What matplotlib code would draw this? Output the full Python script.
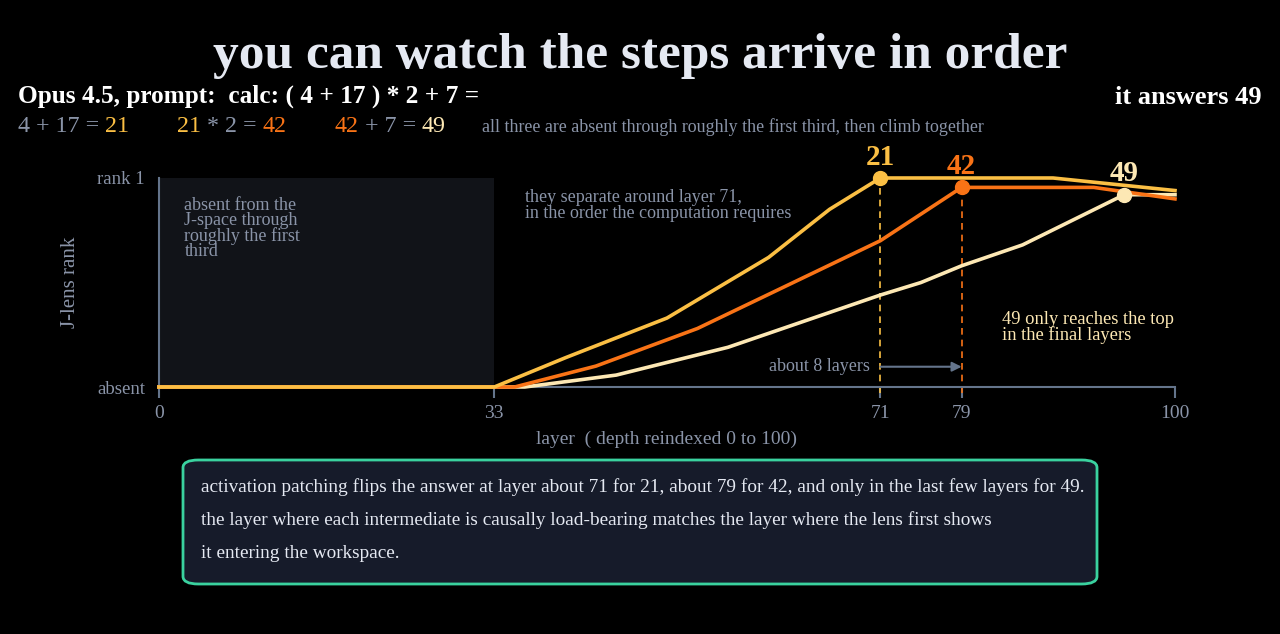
import matplotlib
matplotlib.use("Agg")
import matplotlib.pyplot as plt
from matplotlib.patches import FancyBboxPatch, Rectangle
import numpy as np

plt.rcParams['font.family'] = ['Liberation Serif', 'DejaVu Serif']

# ---------------- data ----------------
layers_21 = [0, 33, 40, 50, 60, 66, 71, 88, 100]
rank_21   = [0, 0, 0.14, 0.33, 0.62, 0.85, 1.0, 1.0, 0.94]

layers_42 = [0, 35, 43, 53, 62, 71, 79, 92, 100]
rank_42   = [0, 0, 0.10, 0.28, 0.49, 0.70, 0.955, 0.955, 0.90]

layers_49 = [0, 36, 45, 56, 71, 75, 79, 85, 95, 100]
rank_49   = [0, 0, 0.057, 0.19, 0.44, 0.50, 0.58, 0.68, 0.92, 0.92]

arrival_layers = [71, 79, 95]
arrival_labels = ["21", "42", "49"]
xticks = [0, 33, 71, 79, 100]
ytick_labels = ["absent", "rank 1"]

C21 = "#fbbf44"
C42 = "#f97316"
C49 = "#fde8b4"
GRAY = "#8a94a8"
AXC = "#64748b"
WHITE = "#e5e9f2"

fig = plt.figure(figsize=(12.8, 6.34), dpi=100, facecolor="black")
ax = fig.add_axes([159/1280, 1-387/634, (1175-159)/1280, (387-178)/634])
ax.set_facecolor("black")
ax.set_xlim(0, 100)
ax.set_ylim(0, 1)

# shaded early region
ax.add_patch(Rectangle((0, 0), 33, 1, facecolor="#111318", edgecolor="none", zorder=0))

series = [(layers_49, rank_49, C49), (layers_42, rank_42, C42), (layers_21, rank_21, C21)]
for xs, ys, c in series:
    ax.plot(xs, ys, color=c, lw=2.6, solid_joinstyle="round", clip_on=False, zorder=3)

# dashed drops and markers
for (xs, ys, c), L, lab in zip(series[::-1], arrival_layers, arrival_labels):
    yv = np.interp(L, xs, ys)
    if lab != "49":
        ax.plot([L, L], [-0.03, yv], color=c, lw=1.2, ls=(0, (4, 3)), zorder=2, clip_on=False)
    ax.plot([L], [yv], "o", ms=10, color=c, zorder=5, clip_on=False)
    ax.text(L, yv + 0.035, lab, color=c, fontsize=21, fontweight="bold",
            ha="center", va="bottom", zorder=6, clip_on=False)

# arrow about 8 layers
ax.annotate("", xy=(79, 0.097), xytext=(71, 0.097),
            arrowprops=dict(arrowstyle="-|>", color=AXC, lw=1.5, mutation_scale=14,
                            shrinkA=0, shrinkB=0))
ax.text(70, 0.10, "about 8 layers", color=GRAY, fontsize=13, ha="right", va="center")

# annotations
ax.text(2.5, 0.91, "absent from the\nJ-space through\nroughly the first\nthird", color=GRAY,
        fontsize=13, ha="left", va="top", linespacing=0.85)
ax.text(36, 0.945, "they separate around layer 71,\nin the order the computation requires",
        color=GRAY, fontsize=13, ha="left", va="top", linespacing=0.85)
ax.text(83.0, 0.365, "49 only reaches the top\nin the final layers", color=C49,
        fontsize=13.3, ha="left", va="top", linespacing=0.85)

# axes styling
for s in ["top", "right"]:
    ax.spines[s].set_visible(False)
for s in ["left", "bottom"]:
    ax.spines[s].set_color(AXC)
    ax.spines[s].set_linewidth(1.5)
ax.set_xticks(xticks)
ax.set_xticklabels([str(t) for t in xticks])
ax.set_yticks([0, 1])
ax.set_yticklabels(ytick_labels)
ax.tick_params(axis="x", colors=AXC, length=8, width=1.5, labelsize=14, labelcolor=GRAY, pad=5)
ax.tick_params(axis="y", length=0, labelsize=13.5, labelcolor=GRAY, pad=10)
ax.set_xlabel("layer  ( depth reindexed 0 to 100)", color=GRAY, fontsize=14, labelpad=6)
ax.set_ylabel("J-lens rank", color=GRAY, fontsize=15, labelpad=12)

# title and header texts
fig.text(0.5, 1-56/634, "you can watch the steps arrive in order", color=WHITE,
         fontsize=37, fontweight="bold", ha="center", va="center")
fig.text(18/1280, 1-96/634, "Opus 4.5, prompt:  calc: ( 4 + 17 ) * 2 + 7 =", color="white",
         fontsize=18.2, fontweight="bold", ha="left", va="center")
fig.text(1262/1280, 1-97/634, "it answers 49", color="white",
         fontsize=19, fontweight="bold", ha="right", va="center")

# colored equation row
parts = [("4 + 17 = ", GRAY), ("21", C21), ("        ", GRAY),
         ("21", C21), (" * 2 = ", GRAY), ("42", C42), ("        ", GRAY),
         ("42", C42), (" + 7 = ", GRAY), ("49", C49)]
fig.canvas.draw()
renderer = fig.canvas.get_renderer()
x = 18
for txt, col in parts:
    t = fig.text(x/1280, 1-127/634, txt, color=col, fontsize=17.3, ha="left", va="center")
    bb = t.get_window_extent(renderer=renderer)
    x += bb.width
fig.text(482/1280, 1-127/634,
         "all three are absent through roughly the first third, then climb together",
         color=GRAY, fontsize=12.9, ha="left", va="center")

# bottom box
box = FancyBboxPatch((183/1280, 1-584/634), (1097-183)/1280, (584-460)/634,
                     boxstyle="round,pad=0,rounding_size=0.012", transform=fig.transFigure,
                     facecolor="#161b2a", edgecolor="#3ad29f", linewidth=2)
fig.patches.append(box)
lines = ["activation patching flips the answer at layer about 71 for 21, about 79 for 42, and only in the last few layers for 49.",
         "the layer where each intermediate is causally load-bearing matches the layer where the lens first shows",
         "it entering the workspace."]
for i, ln in enumerate(lines):
    fig.text(201/1280, 1-(487+33*i)/634, ln, color=WHITE, fontsize=13.85, ha="left", va="center")

fig.savefig("out.png", dpi=100, facecolor="black")
